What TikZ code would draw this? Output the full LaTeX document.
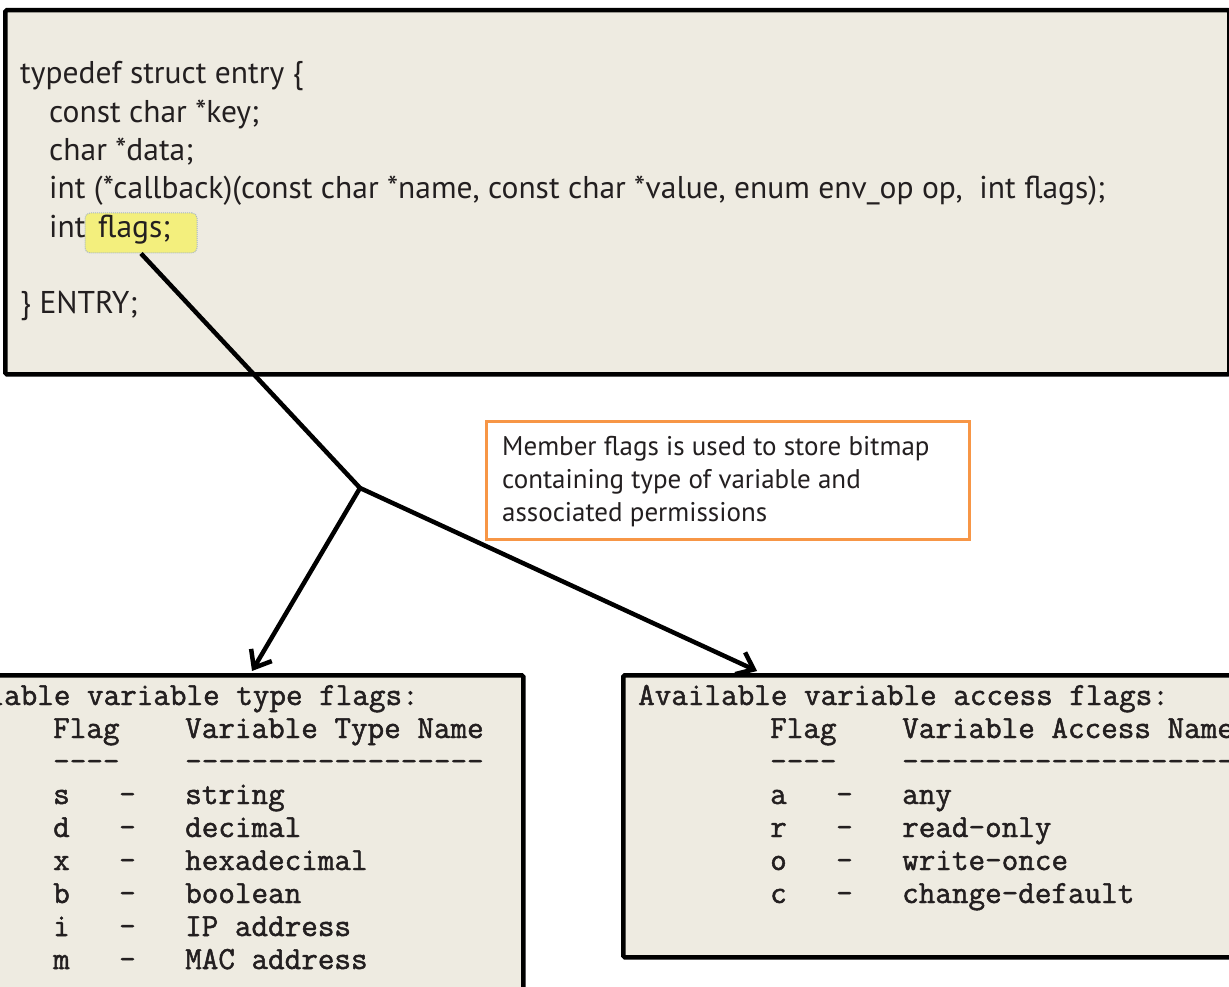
\documentclass[tikz,border=0pt]{standalone}
\usepackage{fontspec}
\setmainfont{PT Sans}
\setmonofont{Latin Modern Mono}[FakeBold=1.5]
\usetikzlibrary{arrows.meta,calc}
\definecolor{boxfill}{RGB}{238,235,225}
\definecolor{orangeline}{RGB}{247,150,70}
\definecolor{hlyellow}{RGB}{243,239,125}
\definecolor{hlborder}{RGB}{165,180,200}
\definecolor{ink}{RGB}{35,31,32}
\begin{document}
\begin{tikzpicture}[x=1pt,y=-1pt,
  panel/.style={draw=black,line width=4.5pt,fill=boxfill,rounded corners=1.5pt,inner sep=0pt,anchor=north west},
  codeline/.style={anchor=base west,inner sep=0pt,text=ink,font=\fontsize{31.5}{36}\selectfont},
  noteline/.style={anchor=base west,inner sep=0pt,text=ink,font=\fontsize{27}{32}\selectfont},
  mono/.style={anchor=base west,inner sep=0pt,text=ink,font=\ttfamily\fontsize{32.2}{33}\selectfont},
  conn/.style={draw=black,line width=4.5pt,line join=miter},
  tip/.style={-{Straight Barb[length=15pt,width=24pt,line width=4.5pt]}}
]
\useasboundingbox (0,0) rectangle (1229,987);
\clip (0,0) rectangle (1229,987);

% top struct box
\node[panel,minimum width=1224pt,minimum height=364pt] (tbox) at (3,8) {};
\node[draw=hlborder,densely dotted,line width=1pt,fill=hlyellow,rounded corners=5pt,
      minimum width=112pt,minimum height=40pt,inner sep=0pt] (hl) at (141,233) {};
\node[codeline] (c0) at (20,84) {typedef struct entry \{};
\node[codeline] (c1) at (49,122.3) {const char *key;};
\node[codeline] (c2) at (49,160.6) {char *data;};
\node[codeline] (c3) at (49,198.9) {int (*callback)(const char *name, const char *value, enum env\_op op,\ \ int flags);};
\node[codeline] (c4) at (49,237.2) {int};
\node[codeline] (c4f) at (98,237.2) {flags;};
\node[codeline] (c6) at (20,313.8) {\} ENTRY;};

% note box
\node[draw=orangeline,line width=3pt,fill=white,minimum width=483pt,minimum height=118pt,
      inner sep=0pt,anchor=north west] (note) at (485,420) {};
\node[noteline] (n1) at (502,455) {Member flags is used to store bitmap};
\node[noteline] (n2) at (502,488) {containing type of variable and};
\node[noteline] (n3) at (502,521) {associated permissions};

% bottom boxes
\node[panel,minimum width=617pt,minimum height=340pt] (lbox) at (-96,673) {};
\node[panel,minimum width=640pt,minimum height=282pt] (rbox) at (621,673) {};

% left table (x0 = -79)
\node[mono] (lt0) at (-79,705) {Available variable type flags:};
\node[mono] (lt1a) at (53,738) {Flag};
\node[mono] (lt1b) at (185,738) {Variable Type Name};
\node[mono] (lt2a) at (53,771) {----};
\node[mono] (lt2b) at (185,771) {------------------};
\foreach \f/\n [count=\i] in {s/string,d/decimal,x/hexadecimal,b/boolean,i/IP address,m/MAC address}{
  \node[mono] (lf\i) at (53,{771+33*\i}) {\f};
  \node[mono] (ld\i) at (119,{771+33*\i}) {-};
  \node[mono] (ln\i) at (185,{771+33*\i}) {\n};
}

% right table (x0 = 638)
\node[mono] (rt0) at (638,705) {Available variable access flags:};
\node[mono] (rt1a) at (770,738) {Flag};
\node[mono] (rt1b) at (902,738) {Variable Access Name};
\node[mono] (rt2a) at (770,771) {----};
\node[mono] (rt2b) at (902,771) {--------------------};
\foreach \f/\n [count=\i] in {a/any,r/read-only,o/write-once,c/change-default}{
  \node[mono] (rf\i) at (770,{771+33*\i}) {\f};
  \node[mono] (rd\i) at (836,{771+33*\i}) {-};
  \node[mono] (rn\i) at (902,{771+33*\i}) {\n};
}

% connectors
\coordinate (j) at (360,488);
\coordinate (la) at ($(lbox.north west)+(348,-2)$);
\coordinate (ra) at ($(rbox.north west)+(136,-2)$);
\draw[conn] (hl.south) -- (j);
\draw[conn,tip] (j) -- (la);
\draw[conn,tip] (j) -- (ra);
\end{tikzpicture}
\end{document}
